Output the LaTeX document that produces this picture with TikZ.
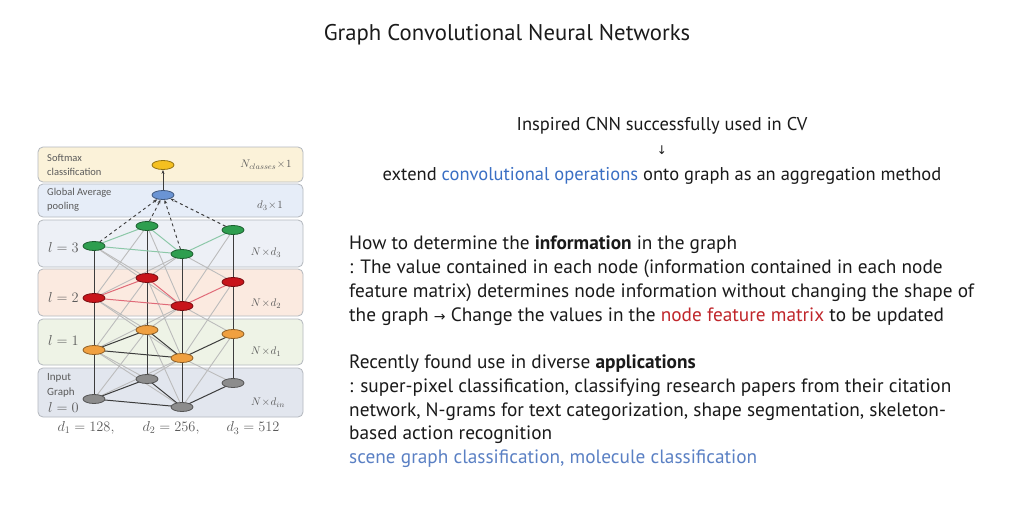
\documentclass[tikz,border=0pt]{standalone}
\usepackage{fontspec}
\setmainfont{PT Sans}
\newfontfamily\labfont{Carlito}
\newfontfamily\symfont{DejaVu Sans}
\usetikzlibrary{arrows.meta,shapes.geometric}
\pgfdeclarelayer{bg}
\pgfdeclarelayer{edges}
\pgfsetlayers{bg,edges,main}
\definecolor{cblue}{HTML}{3A6FC4}
\definecolor{cred}{HTML}{C0262B}
\definecolor{cblue2}{HTML}{5A80C4}
\definecolor{txt}{HTML}{1A1A1A}
\definecolor{labgray}{HTML}{5A5A5A}
\definecolor{pborder}{HTML}{B4B8BE}
\definecolor{psoft}{HTML}{FBF2D9}
\definecolor{pgap}{HTML}{E6EDF8}
\definecolor{pl3}{HTML}{EDF0F6}
\definecolor{pl2}{HTML}{FBEAE0}
\definecolor{pl1}{HTML}{EEF3E6}
\definecolor{pl0}{HTML}{E2E6EE}
\definecolor{ngreen}{HTML}{2E9E4F}
\definecolor{nred}{HTML}{C8141A}
\definecolor{norange}{HTML}{F0A040}
\definecolor{ngray}{HTML}{8C8C8C}
\definecolor{nblue}{HTML}{6A94D4}
\definecolor{nyellow}{HTML}{F5C020}
\definecolor{egreen}{HTML}{8CC8A8}
\definecolor{ered}{HTML}{E06A78}
\definecolor{edark}{HTML}{3C3C3C}
\definecolor{ecross}{HTML}{BCBCBC}
\tikzset{
  panel/.style={draw=pborder, line width=0.8pt, rounded corners=5pt},
  gnode/.style={ellipse, draw=#1!60!black, fill=#1, minimum width=22pt, minimum height=9pt, inner sep=0pt, line width=0.8pt},
  lab/.style={font=\labfont\fontsize{10.5}{14}\selectfont, text=labgray, align=left, anchor=west, inner sep=0pt},
  dimlab/.style={font=\fontsize{11}{13}\selectfont, text=labgray},
  laylab/.style={font=\fontsize{13.5}{15}\selectfont, text=labgray, anchor=west, inner sep=0pt},
  dlab/.style={font=\fontsize{14.5}{16}\selectfont, text=labgray},
  crossedge/.style={draw=ecross, line width=0.9pt},
  vedge/.style={draw=edark, line width=1pt},
  body/.style={font=\fontsize{19.3}{22}\selectfont, text=txt, anchor=base west, inner sep=0pt},
  head/.style={font=\fontsize{18.5}{22}\selectfont, text=txt},
  dasharrow/.style={draw=edark, dashed, line width=0.9pt, -{Stealth[length=4pt,width=3pt]}},
}
\begin{document}
\begin{tikzpicture}[x=1pt,y=-1pt]
\useasboundingbox (0,0) rectangle (1024,511);
% panels
\begin{pgfonlayer}{bg}
\fill[white] (0,0) rectangle (1024,511);
\draw[panel, fill=psoft] (38,147) rectangle (303,182);
\draw[panel, fill=pgap] (38,184) rectangle (303,217);
\draw[panel, fill=pl3] (38,220) rectangle (303,267);
\draw[panel, fill=pl2] (38,269) rectangle (303,316);
\draw[panel, fill=pl1] (38,319) rectangle (303,365);
\draw[panel, fill=pl0] (38,368) rectangle (303,417);
\end{pgfonlayer}
% nodes
\foreach \L/\y/\c in {0/399/ngray, 1/350/norange, 2/298/nred, 3/246/ngreen} {
  \node[gnode=\c] (n\L a) at (94,\y) {};
  \node[gnode=\c] (n\L b) at (147,\y-20) {};
  \node[gnode=\c] (n\L c) at (182,\y+8) {};
  \node[gnode=\c] (n\L d) at (233,\y-16) {};
}
\node[gnode=nblue] (gap) at (163,195) {};
\node[gnode=nyellow] (soft) at (163,165) {};
% edges
\begin{pgfonlayer}{edges}
\foreach \L/\M in {0/1, 1/2, 2/3} {
  \draw[crossedge] (n\L a.center) -- (n\M b.center);
  \draw[crossedge] (n\L a.center) -- (n\M c.center);
  \draw[crossedge] (n\L b.center) -- (n\M a.center);
  \draw[crossedge] (n\L b.center) -- (n\M c.center);
  \draw[crossedge] (n\L c.center) -- (n\M a.center);
  \draw[crossedge] (n\L c.center) -- (n\M b.center);
  \draw[crossedge] (n\L c.center) -- (n\M d.center);
  \draw[crossedge] (n\L d.center) -- (n\M c.center);
  \draw[vedge] (n\L a.center) -- (n\M a.center);
  \draw[vedge] (n\L b.center) -- (n\M b.center);
  \draw[vedge] (n\L c.center) -- (n\M c.center);
  \draw[vedge] (n\L d.center) -- (n\M d.center);
}
\foreach \L/\e in {0/edark, 1/edark, 2/ered, 3/egreen} {
  \draw[draw=\e, line width=1pt] (n\L a.center) -- (n\L b.center);
  \draw[draw=\e, line width=1pt] (n\L a.center) -- (n\L c.center);
  \draw[draw=\e, line width=1pt] (n\L b.center) -- (n\L c.center);
  \draw[draw=\e, line width=1pt] (n\L c.center) -- (n\L d.center);
}
\end{pgfonlayer}
\foreach \n in {a,b,c,d} \draw[dasharrow] (n3\n) -- (gap);
\draw[draw=edark, line width=0.9pt, -{Stealth[length=4pt,width=3pt]}] (gap) -- (soft);
% panel labels
\node[lab] (t1) at (47,165) {Softmax\\classification};
\node[lab] (t2) at (47,200) {Global Average\\pooling};
\node[laylab] (t3) at (48,247) {$l=3$};
\node[laylab] (t4) at (48,297) {$l=2$};
\node[laylab] (t5) at (48,340) {$l=1$};
\node[lab, font=\labfont\fontsize{11}{15}\selectfont] (t6) at (47,385) {Input\\Graph};
\node[laylab] (t7) at (48,407) {$l=0$};
\node[dimlab] (r1) at (266,165) {$N_{classes}\!\times\!1$};
\node[dimlab] (r2) at (270,206) {$d_3\!\times\!1$};
\node[dimlab] (r3) at (266,253) {$N\!\times\! d_3$};
\node[dimlab] (r4) at (266,304) {$N\!\times\! d_2$};
\node[dimlab] (r5) at (266,352) {$N\!\times\! d_1$};
\node[dimlab] (r6) at (268,403) {$N\!\times\! d_{in}$};
\node[dlab] (b1) at (86,428) {$d_1=128,$};
\node[dlab] (b2) at (171,428) {$d_2=256,$};
\node[dlab] (b3) at (253,428) {$d_3=512$};
% right text
\node[font=\fontsize{22.7}{26}\selectfont, text=txt] (title) at (507,35) {Graph Convolutional Neural Networks};
\node[head] (h1) at (662,126) {Inspired CNN successfully used in CV};
\node[font=\symfont\fontsize{12}{14}\selectfont, text=txt] (arr) at (662,150) {↓};
\node[head] (h2) at (662,176) {extend \textcolor{cblue}{convolutional operations} onto graph as an aggregation method};
\node[body] (p1) at (349,249) {How to determine the \textbf{information} in the graph};
\node[body] (p2) at (349,273) {: The value contained in each node (information contained in each node};
\node[body] (p3) at (349,297) {feature matrix) determines node information without changing the shape of};
\node[body] (p4) at (349,321) {the graph {\symfont\fontsize{14}{16}\selectfont →} Change the values in the \textcolor{cred}{node feature matrix} to be updated};
\node[body] (q1) at (349,368) {Recently found use in diverse \textbf{applications}};
\node[body] (q2) at (349,392) {: super-pixel classification, classifying research papers from their citation};
\node[body] (q3) at (349,416) {network, N-grams for text categorization, shape segmentation, skeleton-};
\node[body] (q4) at (349,439) {based action recognition};
\node[body, text=cblue2] (q5) at (349,463) {scene graph classification, molecule classification};
\end{tikzpicture}
\end{document}
